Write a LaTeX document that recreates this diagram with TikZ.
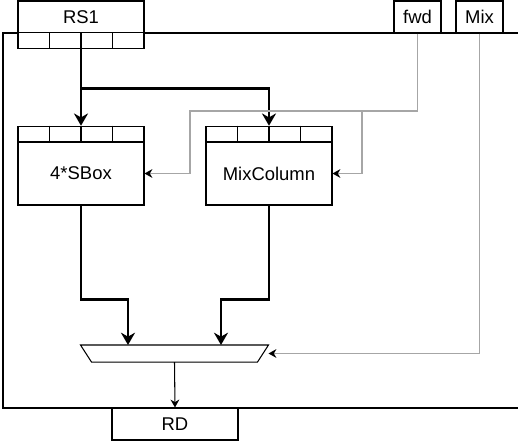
\documentclass[tikz,border=0pt]{standalone}
\usepackage{fontspec}
\setmainfont{Liberation Sans}
\usepackage{tikz}
\usetikzlibrary{positioning,calc,arrows.meta}

\begin{document}
\begin{tikzpicture}[x=0.02cm, y=-0.02cm, line width=0.6pt,
 font=\fontsize{10.5}{12}\selectfont,
 block/.style={rectangle, draw, fill=white, inner sep=0pt, minimum width=2.52cm},
 cellrow/.style={block, minimum height=0.31cm},
 port/.style={rectangle, draw, fill=white, inner sep=0pt, minimum width=0.94cm, minimum height=0.64cm},
 bus/.style={line width=1.7pt, -{Stealth[length=7pt, width=8pt]}},
 ctrl/.style={gray!70, -{Stealth[length=4.5pt, width=5pt, color=black]}},
 wire/.style={-{Stealth[length=4.5pt, width=5pt]}},
 muxbox/.style={rectangle, inner sep=0pt, minimum width=3.74cm, minimum height=0.32cm}]

\useasboundingbox (0,0) rectangle (518,441);

\draw (518,33) -- (3,33) -- (3,408) -- (518,408);

\node[block, minimum height=0.64cm] (rs) at (81,17) {RS1};
\node[cellrow] (rscells) at (81,40.5) {};
\node[port] (fwd) at (417.5,17) {fwd};
\node[port] (mix) at (479.5,17) {Mix};

\node[cellrow] (sboxcells) at (81,134) {};
\node[block, minimum height=1.26cm] (sbox) at (81,173.5) {4*SBox};
\node[cellrow] (mixcells) at (269,134) {};
\node[block, minimum height=1.26cm] (mixcol) at (269,173.5) {MixColumn};

\node[muxbox] (mx) at (174.5,353.5) {};
\draw[fill=white] (mx.north west) -- (mx.north east) -- ($(mx.south east)+(-11,0)$) -- ($(mx.south west)+(11,0)$) -- cycle;
\node[block, minimum height=0.64cm] (rd) at (175,424) {RD};

\foreach \c in {rscells,sboxcells,mixcells}
 \foreach \i in {1,2,3}
  \draw ($(\c.north west)!\i/4!(\c.north east)$) -- ($(\c.south west)!\i/4!(\c.south east)$);

\coordinate (split) at (81,88);
\coordinate (fwdsplit) at (362,111);

\draw[bus] (rscells.south) -- (sboxcells.north);
\draw[bus] (split) -| (mixcells.north);
\draw[bus] (sbox.south) -- ++(0,94) -| ($(mx.north)+(-46.5,0)$);
\draw[bus] (mixcol.south) -- ++(0,94) -| ($(mx.north)+(46.5,0)$);

\draw[ctrl] (fwd.south) |- (190,111) |- (sbox.east);
\draw[ctrl] (fwdsplit) |- (mixcol.east);
\draw[ctrl] (mix.south) |- (mx.east);

\draw[wire] (mx.south) -- (rd.north);
\end{tikzpicture}
\end{document}
